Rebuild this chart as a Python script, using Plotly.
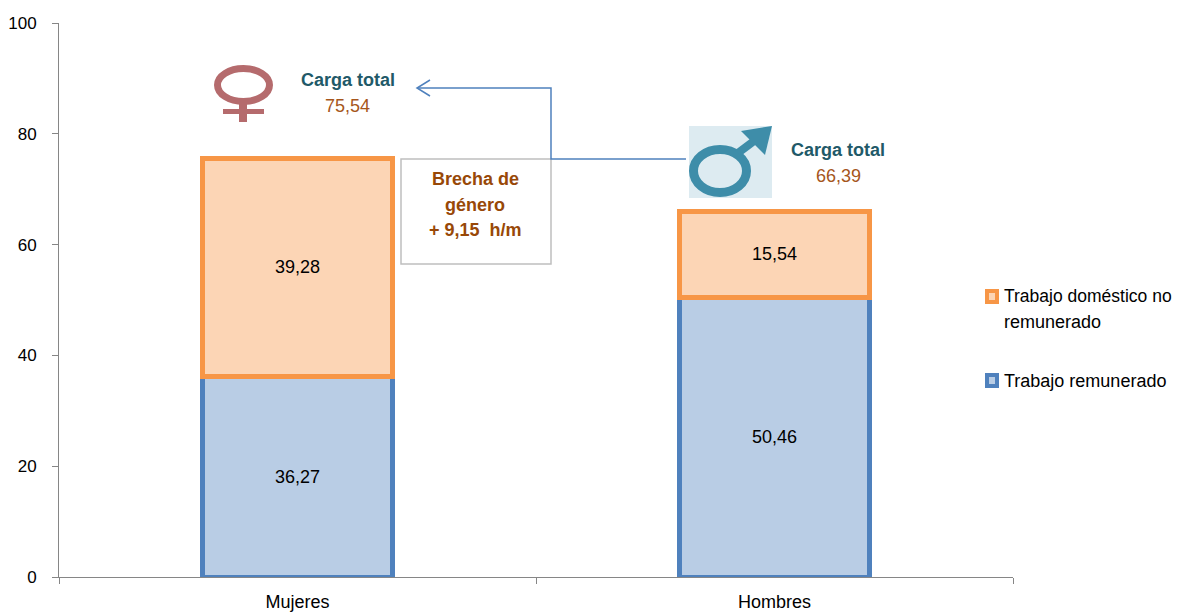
import plotly.graph_objects as go

categories = ["Mujeres", "Hombres"]
paid = [36.27, 50.46]
unpaid = [39.28, 15.54]
paid_labels = ["36,27", "50,46"]
unpaid_labels = ["39,28", "15,54"]
totals = ["75,54", "66,39"]
y_ticks = [0, 20, 40, 60, 80, 100]
series_names = ["Trabajo remunerado", "Trabajo doméstico no<br>remunerado"]

W, H = 1180, 612
L, R, T, B = 59, 1013, 23, 577
FONT = "Liberation Sans, Arial, sans-serif"

def px(x):
    return (x - L) / (R - L)

def py(y):
    return (B - y) / (B - T)

def path(points, close=False):
    s = "M " + " L ".join(f"{px(a):.5f} {py(b):.5f}" for a, b in points)
    return s + (" Z" if close else "")

fig = go.Figure()
fig.add_bar(x=categories, y=paid, name="Trabajo remunerado", text=paid_labels, width=0.4,
            textposition="inside", insidetextanchor="middle", textangle=0,
            marker=dict(color="#B9CDE5", line=dict(color="#4F81BD", width=5)),
            textfont=dict(color="#000000", size=18, family=FONT), showlegend=False)
fig.add_bar(x=categories, y=unpaid, name="Trabajo doméstico no remunerado", text=unpaid_labels, width=0.4,
            textposition="inside", insidetextanchor="middle", textangle=0,
            marker=dict(color="#FCD5B5", line=dict(color="#F79646", width=5)),
            textfont=dict(color="#000000", size=18, family=FONT), showlegend=False)

shapes = []
def rect(x0, y0, x1, y1, fill, line=None, lw=0):
    shapes.append(dict(type="rect", xref="paper", yref="paper", x0=px(x0), x1=px(x1), y0=py(y0), y1=py(y1),
                       fillcolor=fill, line=dict(color=line or fill, width=lw)))
def line(points, color, lw, close=False, fill=None):
    d = dict(type="path", xref="paper", yref="paper", path=path(points, close), line=dict(color=color, width=lw))
    if fill:
        d["fillcolor"] = fill
    shapes.append(d)
def ellipse(x0, y0, x1, y1, color, lw, fill=None):
    shapes.append(dict(type="circle", xref="paper", yref="paper", x0=px(x0), x1=px(x1), y0=py(y0), y1=py(y1),
                       line=dict(color=color, width=lw), fillcolor=fill or "rgba(0,0,0,0)"))

# gap box and connector
rect(401, 159, 551, 264, "#FFFFFF", "#BFBFBF", 1.5)
line([(686, 159), (551, 159), (551, 88), (417, 88)], "#4F81BD", 1.5)
line([(430, 80), (417, 88), (430, 96)], "#4F81BD", 1.5)

# female icon
ellipse(217.5, 68.5, 269.5, 101.5, "#B56B6D", 7)
rect(239, 103, 247, 122, "#B56B6D")
rect(223, 109, 264, 114, "#B56B6D")

# male icon
rect(689, 126, 772, 198, "#DDEBF1")
ellipse(693.5, 149.5, 746.5, 192.5, "#3E8DA9", 9)
line([(738, 153), (762, 135)], "#3E8DA9", 8)
line([(741, 131), (772, 126), (765, 155)], "#3E8DA9", 0, True, "#3E8DA9")

# legend swatches
for y0, border, inner in [(289, "#F79646", "#FCD5B5"), (373, "#4F81BD", "#B9CDE5")]:
    rect(985, y0, 999, y0 + 15, border)
    rect(989, y0 + 4, 995, y0 + 11, inner)

def note(x, y, text, color, size=18, bold=False, anchor="center"):
    return dict(xref="paper", yref="paper", x=px(x), y=py(y), text=f"<b>{text}</b>" if bold else text,
                showarrow=False, xanchor=anchor, yanchor="middle", align="left" if anchor == "left" else "center",
                font=dict(family=FONT, size=size, color=color))

annotations = [
    note(348, 80, "Carga total", "#215968", bold=True),
    note(347, 106, totals[0], "#A6561C"),
    note(838, 150, "Carga total", "#215968", bold=True),
    note(838, 176, totals[1], "#A6561C"),
    note(475, 179, "Brecha de", "#984807", bold=True),
    note(475, 205, "género", "#984807", bold=True),
    note(475, 230, "+ 9,15  h/m", "#984807", bold=True),
    note(1002, 296, series_names[1].split("<br>")[0], "#000000", size=17.5, anchor="left"),
    note(1002, 322, series_names[1].split("<br>")[1], "#000000", anchor="left"),
    note(1002, 381, series_names[0], "#000000", anchor="left"),
]

fig.update_layout(
    width=W, height=H, barmode="stack", showlegend=False,
    margin=dict(l=L, r=W - R, t=T, b=H - B, pad=0),
    paper_bgcolor="#FFFFFF", plot_bgcolor="#FFFFFF",
    font=dict(family=FONT, size=18, color="#000000"),
    shapes=shapes, annotations=annotations,
    xaxis=dict(automargin=False, showgrid=False, showline=True, linecolor="#868686", linewidth=1, ticks="outside",
               tickson="boundaries", ticklen=6, tickcolor="#868686", tickfont=dict(size=18, family=FONT),
               zeroline=False, ticklabelstandoff=8),
    yaxis=dict(automargin=False, range=[0, 100], tickvals=y_ticks, showgrid=False, showline=True, linecolor="#868686", linewidth=1,
               ticks="outside", ticklen=6, tickcolor="#868686", tickfont=dict(size=17, family=FONT),
               zeroline=False, ticklabelstandoff=12),
)
fig.write_html("out.html", post_script="document.body.style.margin='0';", config=dict(displayModeBar=False))
